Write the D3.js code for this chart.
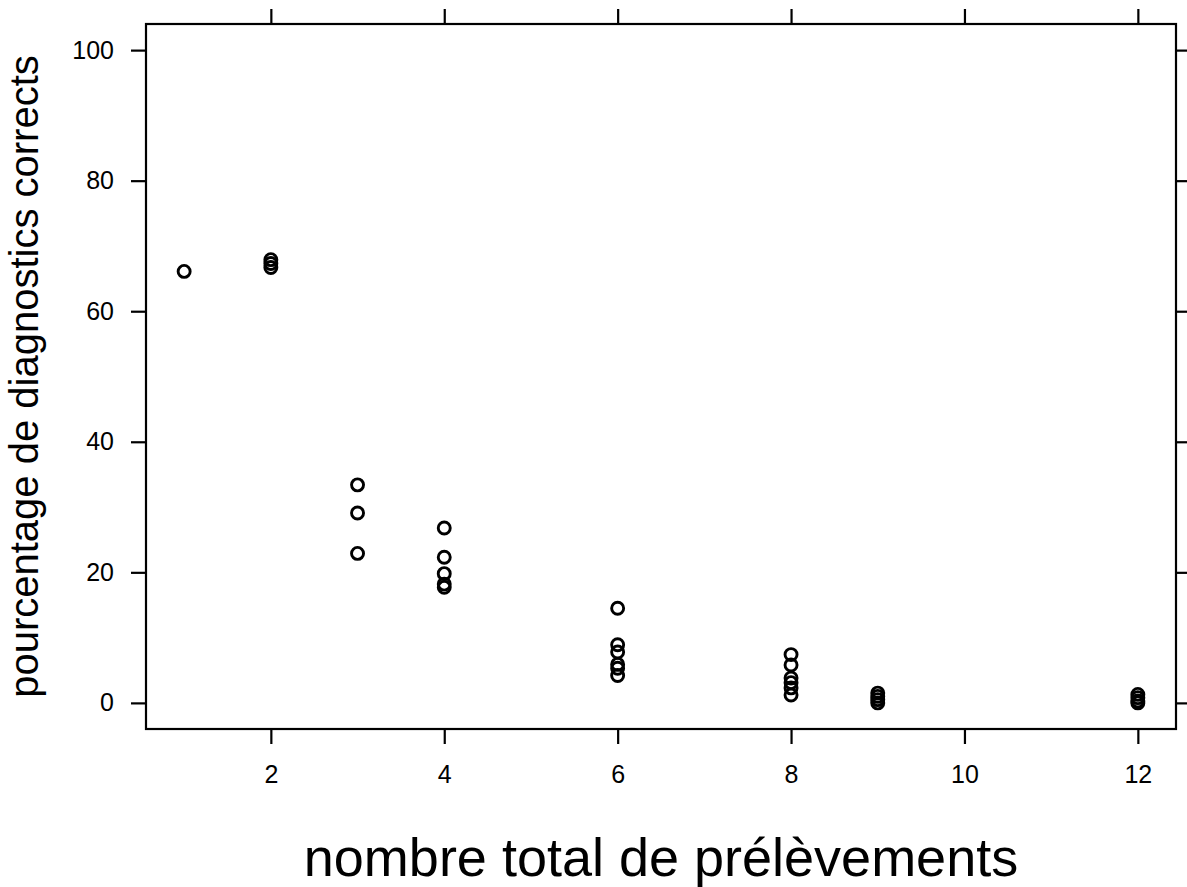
<!DOCTYPE html>
<html>
<head>
<meta charset="utf-8">
<script src="https://cdn.jsdelivr.net/npm/d3@7"></script>
<style>
  body { margin: 0; background: #fff; }
  text { font-family: "Liberation Sans", Arial, sans-serif; }
</style>
</head>
<body>
<div id="chart"></div>
<script>
// number of samples per group and the % correct diagnoses
var nbPrelevements = [1, 2, 2, 2, 3, 3, 3, 4, 4, 4, 4, 4,
                      6, 6, 6, 6, 6, 6, 8, 8, 8, 8, 8, 8,
                      9, 9, 9, 9, 12, 12, 12, 12];
var pctCorrects = [66.1, 66.7, 67.3, 67.9, 33.4, 29.1, 22.9, 26.8, 22.3, 19.8, 18.2, 17.7,
                   14.5, 8.9, 7.8, 5.9, 5.3, 4.2, 7.4, 5.8, 3.8, 3.1, 2.3, 1.2,
                   1.5, 1.0, 0.5, 0.0, 1.3, 0.8, 0.3, 0.0];
var xTicks = [2, 4, 6, 8, 10, 12];
var yTicks = [0, 20, 40, 60, 80, 100];

var svgWidth = 1187, svgHeight = 887;
var margin = {top: 24, right: 11, bottom: 158, left: 146};
var width = svgWidth - margin.left - margin.right,
    height = svgHeight - margin.top - margin.bottom;

var svg = d3.select("#chart").append("svg")
  .attr("width", svgWidth)
  .attr("height", svgHeight);

var g = svg.append("g")
  .attr("transform", "translate(" + margin.left + "," + margin.top + ")");

// lattice style: 4% padding on each side
var x = d3.scaleLinear().domain([1 - 0.44, 12 + 0.44]).range([0, width]);
var y = d3.scaleLinear().domain([-4, 104]).range([height, 0]);

var tickLen = 15;

// axes on all four sides, labels only bottom and left
var xb = g.append("g")
  .attr("transform", "translate(0," + height + ")")
  .call(d3.axisBottom(x).tickValues(xTicks).tickSize(tickLen).tickPadding(21));
g.append("g")
  .call(d3.axisTop(x).tickValues(xTicks).tickSize(tickLen).tickFormat(""));
var yl = g.append("g")
  .call(d3.axisLeft(y).tickValues(yTicks).tickSize(tickLen).tickPadding(17));
g.append("g")
  .attr("transform", "translate(" + width + ",0)")
  .call(d3.axisRight(y).tickValues(yTicks).tickSize(tickLen).tickFormat(""));

g.selectAll(".domain").remove();
g.selectAll(".tick line").attr("stroke", "#000").attr("stroke-width", 2.2);
g.selectAll(".tick text").attr("fill", "#000").style("font-size", "25px");

// box
g.append("rect")
  .attr("width", width)
  .attr("height", height)
  .attr("fill", "none")
  .attr("stroke", "#000")
  .attr("stroke-width", 2.2);

// points
g.selectAll("circle.pt")
  .data(nbPrelevements)
  .enter()
  .append("circle")
  .attr("class", "pt")
  .attr("cx", function(d) { return x(d); })
  .attr("cy", function(d, i) { return y(pctCorrects[i]); })
  .attr("r", 6)
  .attr("fill", "none")
  .attr("stroke", "#000")
  .attr("stroke-width", 2.9);

// axis titles
svg.append("text")
  .attr("x", margin.left + width / 2)
  .attr("y", 876)
  .attr("text-anchor", "middle")
  .style("font-size", "54px")
  .text("nombre total de prélèvements");

svg.append("text")
  .attr("transform", "translate(38," + (margin.top + height / 2) + ") rotate(-90)")
  .attr("text-anchor", "middle")
  .style("font-size", "40px")
  .text("pourcentage de diagnostics corrects");
</script>
</body>
</html>
